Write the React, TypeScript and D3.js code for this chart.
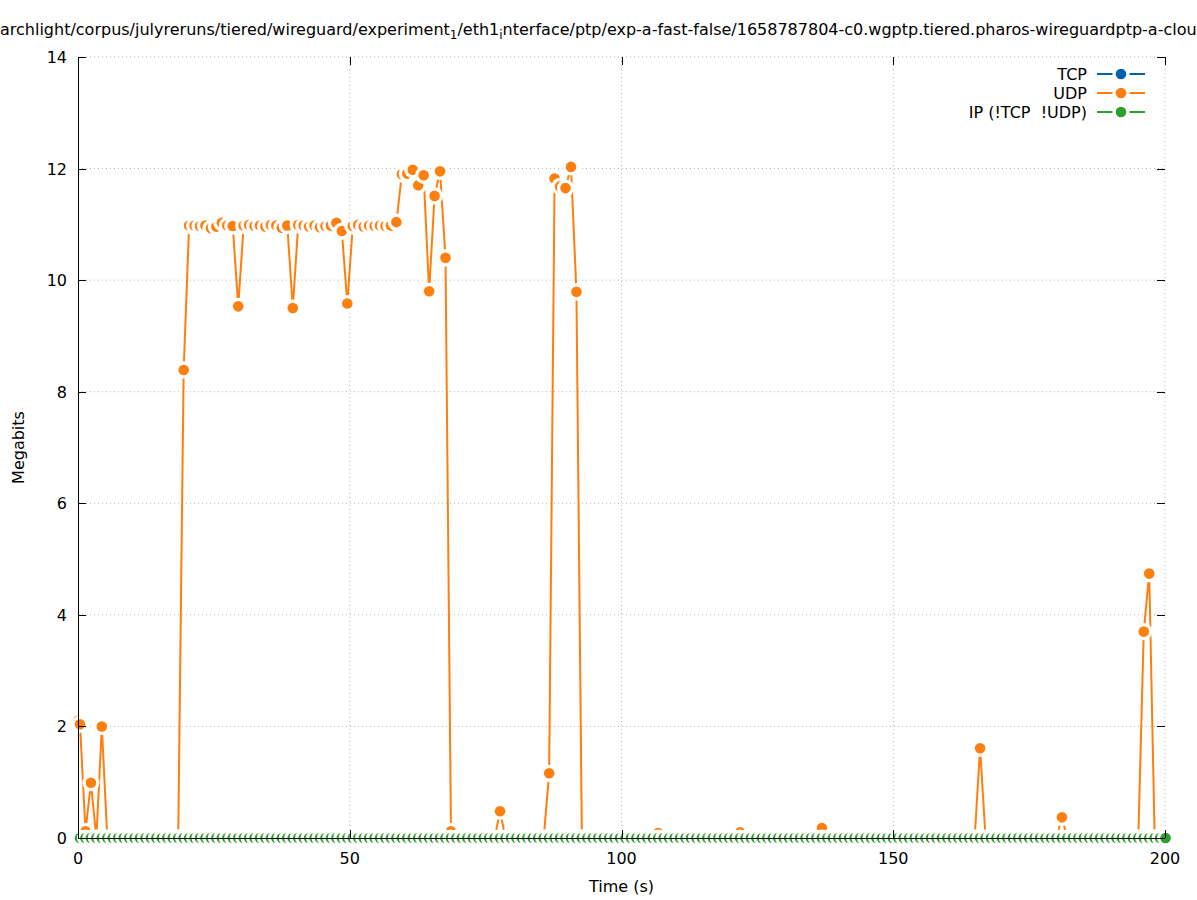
import React from "react";
import * as d3 from "d3";

const W = 1197;
const H = 900;

// axes
const X_DOMAIN = [0, 200];
const Y_DOMAIN = [0, 14];
const X_TICKS = [0, 50, 100, 150, 200];
const Y_TICKS = [0, 2, 4, 6, 8, 10, 12, 14];

// sampling grid (seconds): one leading sample at 0 then roughly 1 s steps
const FIRST_TIME = 0;
const SAMPLE_START = 0.37;
const SAMPLE_STEP = 1.0037;
const SAMPLE_COUNT = 200;

// Megabits per sample (first entry = sample at t=0)
const UDP_VALUES = [
  2.1,
  2.04, 0.12, 0.99, 0, 2.0, 0, 0, 0, 0, 0,
  0, 0, 0, 0, 0, 0, 0, 0, 0, 8.39,
  10.98, 10.98, 10.97, 10.98, 10.93, 10.96, 11.03, 10.98, 10.97, 9.53,
  10.98, 10.99, 10.97, 10.98, 10.96, 10.99, 10.98, 10.94, 10.98, 9.5,
  10.99, 10.98, 10.96, 10.98, 10.95, 10.97, 10.98, 11.03, 10.88, 9.58,
  10.97, 10.99, 10.96, 10.98, 10.97, 10.98, 10.97, 10.98, 11.04, 11.9,
  11.91, 11.98, 11.7, 11.88, 9.8, 11.51, 11.95, 10.4, 0.12, 0,
  0, 0, 0, 0, 0, 0, 0, 0.48, 0, 0,
  0, 0, 0, 0, 0, 0, 1.16, 11.82, 11.68, 11.65,
  12.03, 9.79, 0, 0, 0, 0, 0, 0, 0, 0,
  0, 0, 0, 0, 0, 0, 0.09, 0, 0, 0,
  0, 0, 0, 0, 0, 0, 0, 0, 0, 0,
  0, 0.1, 0, 0, 0, 0, 0, 0, 0, 0,
  0, 0, 0, 0, 0, 0, 0.18, 0, 0, 0,
  0, 0, 0, 0, 0, 0, 0, 0, 0, 0,
  0.05, 0, 0, 0, 0, 0, 0, 0, 0, 0,
  0, 0, 0, 0, 0, 1.61, 0, 0, 0, 0,
  0, 0, 0, 0, 0, 0, 0, 0, 0, 0,
  0.37, 0, 0, 0, 0, 0, 0, 0, 0, 0,
  0, 0, 0, 0, 0, 3.7, 4.74, 0, 0, 0,
];

const TCP_VALUES = [
  0,
  0, 0, 0, 0, 0, 0, 0, 0, 0, 0, 0, 0, 0, 0, 0, 0, 0, 0, 0, 0,
  0, 0, 0, 0, 0, 0, 0, 0, 0, 0, 0, 0, 0, 0, 0, 0, 0, 0, 0, 0,
  0, 0, 0, 0, 0, 0, 0, 0, 0, 0, 0, 0, 0, 0, 0, 0, 0, 0, 0, 0,
  0, 0, 0, 0, 0, 0, 0, 0, 0, 0, 0, 0, 0, 0, 0, 0, 0, 0, 0, 0,
  0, 0, 0, 0, 0, 0, 0, 0, 0, 0, 0, 0, 0, 0, 0, 0, 0, 0, 0, 0,
  0, 0, 0, 0, 0, 0, 0, 0, 0, 0, 0, 0, 0, 0, 0, 0, 0, 0, 0, 0,
  0, 0, 0, 0, 0, 0, 0, 0, 0, 0, 0, 0, 0, 0, 0, 0, 0, 0, 0, 0,
  0, 0, 0, 0, 0, 0, 0, 0, 0, 0, 0, 0, 0, 0, 0, 0, 0, 0, 0, 0,
  0, 0, 0, 0, 0, 0, 0, 0, 0, 0, 0, 0, 0, 0, 0, 0, 0, 0, 0, 0,
  0, 0, 0, 0, 0, 0, 0, 0, 0, 0, 0, 0, 0, 0, 0, 0, 0, 0, 0, 0,
];

const IP_VALUES = [
  0,
  0, 0, 0, 0, 0, 0, 0, 0, 0, 0, 0, 0, 0, 0, 0, 0, 0, 0, 0, 0,
  0, 0, 0, 0, 0, 0, 0, 0, 0, 0, 0, 0, 0, 0, 0, 0, 0, 0, 0, 0,
  0, 0, 0, 0, 0, 0, 0, 0, 0, 0, 0, 0, 0, 0, 0, 0, 0, 0, 0, 0,
  0, 0, 0, 0, 0, 0, 0, 0, 0, 0, 0, 0, 0, 0, 0, 0, 0, 0, 0, 0,
  0, 0, 0, 0, 0, 0, 0, 0, 0, 0, 0, 0, 0, 0, 0, 0, 0, 0, 0, 0,
  0, 0, 0, 0, 0, 0, 0, 0, 0, 0, 0, 0, 0, 0, 0, 0, 0, 0, 0, 0,
  0, 0, 0, 0, 0, 0, 0, 0, 0, 0, 0, 0, 0, 0, 0, 0, 0, 0, 0, 0,
  0, 0, 0, 0, 0, 0, 0, 0, 0, 0, 0, 0, 0, 0, 0, 0, 0, 0, 0, 0,
  0, 0, 0, 0, 0, 0, 0, 0, 0, 0, 0, 0, 0, 0, 0, 0, 0, 0, 0, 0,
  0, 0, 0, 0, 0, 0, 0, 0, 0, 0, 0, 0, 0, 0, 0, 0, 0, 0, 0, 0,
];

const SERIES_NAMES = ["TCP", "UDP", "IP (!TCP  !UDP)"];
const SERIES_COLORS = ["#0060ad", "#ff7f0e", "#2ca02c"];

const FONT = "'DejaVu Sans', sans-serif";
const FS = 16;

const PLOT = { left: 78, right: 1165, top: 57, bottom: 838 };
const R_HALO = 8.6;
const R_DOT = 5.3;

const TIMES = [
  FIRST_TIME,
  ...d3.range(SAMPLE_COUNT).map((k) => SAMPLE_START + k * SAMPLE_STEP),
];

export default function App() {
  const x = d3.scaleLinear().domain(X_DOMAIN).range([PLOT.left, PLOT.right]);
  const y = d3.scaleLinear().domain(Y_DOMAIN).range([PLOT.bottom, PLOT.top]);

  const seriesData = [TCP_VALUES, UDP_VALUES, IP_VALUES];

  const line = d3
    .line<number>()
    .x((_, i) => x(TIMES[i]))
    .y((v) => y(v));

  return (
    <svg
      width={W}
      height={H}
      style={{ position: "absolute", left: 0, top: 0, background: "#fff" }}
      fontFamily={FONT}
    >
      <rect x={0} y={0} width={W} height={H} fill="#fff" />
      {/* grid */}
      <g stroke="#b4b4b4" strokeWidth={1} strokeDasharray="1,3">
        {X_TICKS.filter((t) => t !== 0).map((t) => (
          <line key={"gx" + t} x1={x(t)} x2={x(t)} y1={PLOT.top} y2={PLOT.bottom} />
        ))}
        {Y_TICKS.filter((t) => t !== 0).map((t) => (
          <line key={"gy" + t} x1={PLOT.left} x2={PLOT.right} y1={y(t)} y2={y(t)} />
        ))}
      </g>

      {/* series */}
      {seriesData.map((vals, si) => (
        <g key={"s" + si}>
          <path
            d={line(vals) || ""}
            fill="none"
            stroke={SERIES_COLORS[si]}
            strokeWidth={2}
          />
          {vals.map((v, i) => (
            <g key={i}>
              <circle cx={x(TIMES[i])} cy={y(v)} r={R_HALO} fill="#fff" />
              <circle cx={x(TIMES[i])} cy={y(v)} r={R_DOT} fill={SERIES_COLORS[si]} />
            </g>
          ))}
        </g>
      ))}

      {/* axes border */}
      <g stroke="#000" strokeWidth={1}>
        <line x1={PLOT.left + 0.5} x2={PLOT.left + 0.5} y1={PLOT.top} y2={PLOT.bottom} />
        <line x1={PLOT.left} x2={PLOT.right} y1={PLOT.bottom + 0.5} y2={PLOT.bottom + 0.5} />
        {Y_TICKS.map((t) => (
          <g key={"ty" + t}>
            <line x1={PLOT.left} x2={PLOT.left + 8} y1={Math.round(y(t)) + 0.5} y2={Math.round(y(t)) + 0.5} />
            <line x1={PLOT.right - 8} x2={PLOT.right} y1={Math.round(y(t)) + 0.5} y2={Math.round(y(t)) + 0.5} />
          </g>
        ))}
        {X_TICKS.map((t) => (
          <g key={"tx" + t}>
            <line x1={Math.round(x(t)) + 0.5} x2={Math.round(x(t)) + 0.5} y1={PLOT.bottom} y2={PLOT.bottom - 8} />
            <line x1={Math.round(x(t)) + 0.5} x2={Math.round(x(t)) + 0.5} y1={PLOT.top} y2={PLOT.top + 8} />
          </g>
        ))}
      </g>

      {/* tick labels */}
      <g fontSize={FS} fill="#000">
        {Y_TICKS.map((t) => (
          <text key={"ly" + t} x={PLOT.left - 11} y={y(t) + 6} textAnchor="end">
            {t}
          </text>
        ))}
        {X_TICKS.map((t) => (
          <text key={"lx" + t} x={x(t)} y={PLOT.bottom + 26} textAnchor="middle">
            {t}
          </text>
        ))}
      </g>

      {/* axis titles */}
      <text x={(PLOT.left + PLOT.right) / 2} y={892} textAnchor="middle" fontSize={FS}>
        Time (s)
      </text>
      <text
        transform={`translate(24, ${(PLOT.top + PLOT.bottom) / 2}) rotate(-90)`}
        textAnchor="middle"
        fontSize={FS}
      >
        Megabits
      </text>

      {/* title */}
      <text x={0} y={35} fontSize={FS} textAnchor="start">
        <tspan>archlight/corpus/julyreruns/tiered/wireguard/experiment</tspan>
        <tspan fontSize={12} dy={4}>1</tspan>
        <tspan dy={-4}>/eth1</tspan>
        <tspan fontSize={12} dy={4}>i</tspan>
        <tspan dy={-4}>nterface/ptp/exp-a-fast-false/1658787804-c0.wgptp.tiered.pharos-wireguardptp-a-cloud</tspan>
      </text>

      {/* legend */}
      {SERIES_NAMES.map((name, i) => {
        const ly = 74 + i * 19;
        return (
          <g key={"leg" + i}>
            <text x={1087} y={ly + 6} textAnchor="end" fontSize={FS} style={{ whiteSpace: "pre" }}>
              {name}
            </text>
            <line x1={1097} x2={1145} y1={ly} y2={ly} stroke={SERIES_COLORS[i]} strokeWidth={2} />
            <circle cx={1121} cy={ly} r={R_HALO} fill="#fff" />
            <circle cx={1121} cy={ly} r={R_DOT} fill={SERIES_COLORS[i]} />
          </g>
        );
      })}
    </svg>
  );
}
